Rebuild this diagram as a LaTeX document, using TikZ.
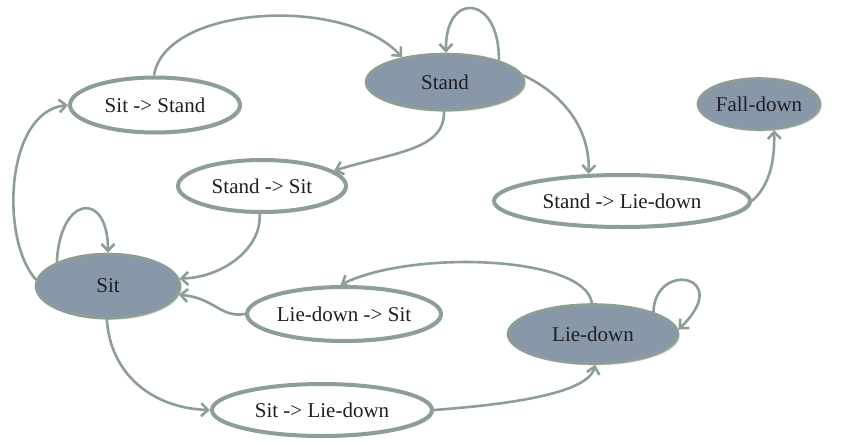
\documentclass[tikz,border=0pt]{standalone}
\usepackage{fontspec}
\setmainfont{Liberation Serif}
\usetikzlibrary{shapes.geometric,arrows.meta,shadows}
\definecolor{edgec}{RGB}{141,159,148}
\definecolor{statec}{RGB}{137,152,168}
\definecolor{txtc}{RGB}{30,30,35}
\tikzset{
  base/.style={ellipse, inner sep=0pt, text=txtc, font=\fontsize{21}{24}\selectfont,
    drop shadow={shadow xshift=1.6pt, shadow yshift=-1.8pt, opacity=0.35, fill=black!60}},
  state/.style={base, fill=statec, draw=edgec, line width=2.6pt},
  trans/.style={base, fill=white, draw=edgec, line width=4pt},
  conn/.style={draw=edgec, line width=2.6pt, -{Straight Barb[length=7pt,width=13pt]}}
}
\begin{document}
\begin{tikzpicture}[x=1pt,y=-1pt]
\useasboundingbox (0,0) rectangle (846,442);
\node[trans, minimum width=170pt, minimum height=55pt] (SS) at (155,105) {Sit -> Stand};
\node[state, minimum width=158pt, minimum height=56pt] (ST) at (445,82) {Stand};
\node[state, minimum width=121pt, minimum height=51pt] (FD) at (759,104) {Fall-down};
\node[trans, minimum width=168pt, minimum height=52pt] (TS) at (262,186) {Stand -> Sit};
\node[trans, minimum width=256pt, minimum height=52pt] (TL) at (622,201) {Stand -> Lie-down};
\node[state, minimum width=144pt, minimum height=64pt] (SI) at (108,286) {Sit};
\node[trans, minimum width=194pt, minimum height=54pt] (LS) at (344,314) {Lie-down -> Sit};
\node[state, minimum width=170pt, minimum height=59pt] (LD) at (593,334) {Lie-down};
\node[trans, minimum width=220pt, minimum height=52pt] (SL) at (322,410) {Sit -> Lie-down};

% Sit -> Sit->Stand
\draw[conn] (SI.175) .. controls (0,240) and (5,112) .. (SS.west);
% Sit->Stand -> Stand
\draw[conn] (SS.92) .. controls (165,5) and (345,-5) .. (ST.150);
% Stand self loop
\draw[conn] (ST.22) .. controls (500,-5) and (445,-10) .. (ST.88);
% Stand -> Stand->Sit
\draw[conn] (ST.268) .. controls (445,150) and (395,152) .. (TS.12);
% Stand -> Stand->Lie-down
\draw[conn] (ST.5) .. controls (565,95) and (590,130) .. (TL.141);
% Stand->Lie-down -> Fall-down
\draw[conn] (TL.east) .. controls (770,185) and (775,160) .. (FD.300);
% Stand->Sit -> Sit
\draw[conn] (TS.265) .. controls (262,250) and (220,278) .. (SI.6);
% Lie-down->Sit -> Sit
\draw[conn] (LS.west) .. controls (220,318) and (215,298) .. (SI.-7);
% Lie-down -> Lie-down->Sit
\draw[conn] (LD.92) .. controls (585,255) and (410,250) .. (LS.97);
% Lie-down self loop
\draw[conn] (LD.20) .. controls (655,260) and (735,275) .. (LD.3);
% Sit self loop
\draw[conn] (SI.155) .. controls (60,195) and (108,190) .. (SI.north);
% Sit -> Sit->Lie-down
\draw[conn] (SI.268) .. controls (110,372) and (150,408) .. (SL.west);
% Sit->Lie-down -> Lie-down
\draw[conn] (SL.east) .. controls (500,405) and (588,395) .. (LD.274);
\end{tikzpicture}
\end{document}
